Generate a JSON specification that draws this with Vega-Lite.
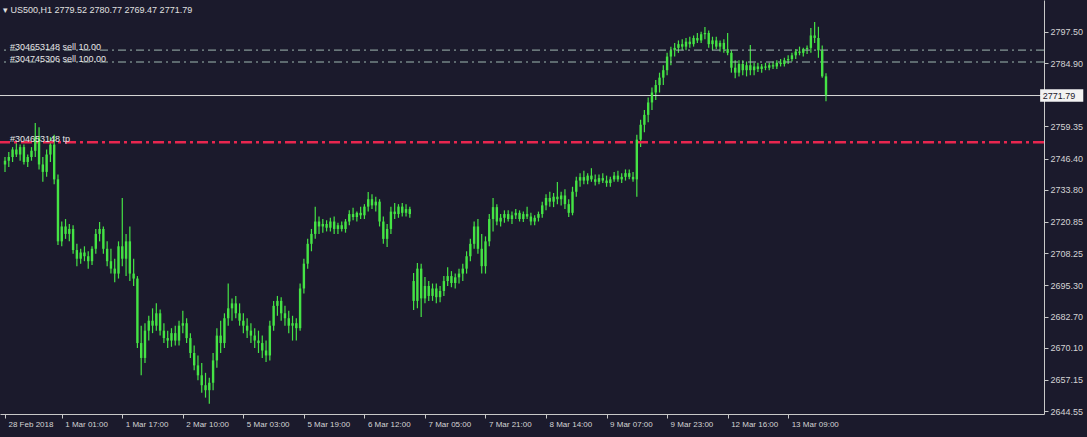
{
"$schema": "https://vega.github.io/schema/vega-lite/v6.json",
"width": 1044, "height": 414,
"autosize": {"type": "none"},
"padding": {"left": 0, "top": 0, "right": 43, "bottom": 23},
"background": "#1b1a2c",
"config": {"view": {"stroke": null, "fill": "#1b1a2c"}, "font": "Liberation Sans", "axis": {"labelOverlap": false, "labelBound": false}},
"title": {"text": "▾ US500,H1  2779.52 2780.77 2769.47 2771.79", "anchor": "start", "frame": "group", "offset": -15, "dx": 3, "fontSize": 9, "fontWeight": "normal", "color": "#e0e0e0", "font": "Liberation Sans"},
"datasets": {
"bars": [
{"i":0,"o":2744,"h":2747,"l":2741,"c":2745.5},
{"i":1,"o":2745.5,"h":2749,"l":2743,"c":2747},
{"i":2,"o":2747,"h":2751,"l":2745,"c":2750},
{"i":3,"o":2750,"h":2753.5,"l":2747,"c":2748},
{"i":4,"o":2748,"h":2752,"l":2745.5,"c":2751},
{"i":5,"o":2751,"h":2752,"l":2744,"c":2745},
{"i":6,"o":2745,"h":2748,"l":2743,"c":2747},
{"i":7,"o":2747,"h":2751,"l":2745.5,"c":2749.5},
{"i":8,"o":2749.5,"h":2760.7,"l":2747,"c":2755},
{"i":9,"o":2755,"h":2759,"l":2742,"c":2744},
{"i":10,"o":2744,"h":2747,"l":2737,"c":2741},
{"i":11,"o":2741,"h":2750,"l":2739,"c":2748},
{"i":12,"o":2748,"h":2755,"l":2745,"c":2752},
{"i":13,"o":2752,"h":2756,"l":2736,"c":2738},
{"i":14,"o":2738,"h":2740,"l":2711.5,"c":2713},
{"i":15,"o":2713,"h":2721,"l":2711,"c":2719},
{"i":16,"o":2719,"h":2722,"l":2714,"c":2716},
{"i":17,"o":2716,"h":2720,"l":2713,"c":2718},
{"i":18,"o":2718,"h":2719.5,"l":2708,"c":2709.5},
{"i":19,"o":2709.5,"h":2712,"l":2703,"c":2706},
{"i":20,"o":2706,"h":2710,"l":2704,"c":2708.5},
{"i":21,"o":2708.5,"h":2711,"l":2705,"c":2707},
{"i":22,"o":2707,"h":2709,"l":2702,"c":2705},
{"i":23,"o":2705,"h":2711,"l":2703.5,"c":2710},
{"i":24,"o":2710,"h":2718,"l":2708,"c":2716},
{"i":25,"o":2716,"h":2720.8,"l":2713,"c":2718},
{"i":26,"o":2718,"h":2719,"l":2708,"c":2710},
{"i":27,"o":2710,"h":2713,"l":2703,"c":2705},
{"i":28,"o":2705,"h":2710,"l":2700,"c":2702},
{"i":29,"o":2702,"h":2706,"l":2696.5,"c":2700},
{"i":30,"o":2700,"h":2713,"l":2698,"c":2711},
{"i":31,"o":2711,"h":2730.5,"l":2703,"c":2706},
{"i":32,"o":2706,"h":2716,"l":2699,"c":2713},
{"i":33,"o":2713,"h":2719,"l":2697,"c":2700},
{"i":34,"o":2700,"h":2706,"l":2695,"c":2698},
{"i":35,"o":2698,"h":2699,"l":2670,"c":2672},
{"i":36,"o":2672,"h":2679,"l":2659,"c":2666},
{"i":37,"o":2666,"h":2680,"l":2664,"c":2677},
{"i":38,"o":2677,"h":2683,"l":2673,"c":2681},
{"i":39,"o":2681,"h":2686,"l":2676,"c":2679},
{"i":40,"o":2679,"h":2688,"l":2677,"c":2684},
{"i":41,"o":2684,"h":2685.5,"l":2675,"c":2677},
{"i":42,"o":2677,"h":2680,"l":2672,"c":2674},
{"i":43,"o":2674,"h":2677,"l":2670,"c":2673},
{"i":44,"o":2673,"h":2678,"l":2670.5,"c":2676},
{"i":45,"o":2676,"h":2679,"l":2671,"c":2673},
{"i":46,"o":2673,"h":2681,"l":2671,"c":2679},
{"i":47,"o":2679,"h":2685,"l":2676,"c":2680},
{"i":48,"o":2680,"h":2682,"l":2672,"c":2674},
{"i":49,"o":2674,"h":2676,"l":2666,"c":2668},
{"i":50,"o":2668,"h":2671,"l":2661,"c":2663},
{"i":51,"o":2663,"h":2667,"l":2657,"c":2659},
{"i":52,"o":2659,"h":2664,"l":2652,"c":2655},
{"i":53,"o":2655,"h":2660,"l":2650,"c":2653},
{"i":54,"o":2653,"h":2658,"l":2647.5,"c":2656},
{"i":55,"o":2656,"h":2668,"l":2653,"c":2665},
{"i":56,"o":2665,"h":2678,"l":2662,"c":2675},
{"i":57,"o":2675,"h":2681,"l":2668,"c":2672},
{"i":58,"o":2672,"h":2684,"l":2670,"c":2682},
{"i":59,"o":2682,"h":2696,"l":2679,"c":2686},
{"i":60,"o":2686,"h":2690,"l":2681,"c":2688},
{"i":61,"o":2688,"h":2691,"l":2682,"c":2684},
{"i":62,"o":2684,"h":2688,"l":2679,"c":2681},
{"i":63,"o":2681,"h":2684,"l":2676,"c":2679},
{"i":64,"o":2679,"h":2682,"l":2674,"c":2677},
{"i":65,"o":2677,"h":2680,"l":2672,"c":2675},
{"i":66,"o":2675,"h":2678,"l":2670,"c":2673},
{"i":67,"o":2673,"h":2677,"l":2668,"c":2672},
{"i":68,"o":2672,"h":2675,"l":2666,"c":2669},
{"i":69,"o":2669,"h":2673,"l":2664.4,"c":2667},
{"i":70,"o":2667,"h":2681,"l":2665,"c":2679},
{"i":71,"o":2679,"h":2689,"l":2677,"c":2687},
{"i":72,"o":2687,"h":2691,"l":2683,"c":2689},
{"i":73,"o":2689,"h":2690.5,"l":2681,"c":2684},
{"i":74,"o":2684,"h":2687,"l":2679,"c":2682},
{"i":75,"o":2682,"h":2685,"l":2676,"c":2679},
{"i":76,"o":2679,"h":2683,"l":2673,"c":2680},
{"i":77,"o":2680,"h":2682,"l":2673,"c":2678},
{"i":78,"o":2678,"h":2696,"l":2677,"c":2694},
{"i":79,"o":2694,"h":2706,"l":2692,"c":2704},
{"i":80,"o":2704,"h":2714,"l":2702,"c":2712},
{"i":81,"o":2712,"h":2718,"l":2709,"c":2716},
{"i":82,"o":2716,"h":2727,"l":2714,"c":2721},
{"i":83,"o":2721,"h":2723,"l":2716,"c":2719},
{"i":84,"o":2719,"h":2722,"l":2716.5,"c":2720},
{"i":85,"o":2720,"h":2721.5,"l":2717,"c":2718.5},
{"i":86,"o":2718.5,"h":2722.5,"l":2717,"c":2721},
{"i":87,"o":2721,"h":2723,"l":2716,"c":2718},
{"i":88,"o":2718,"h":2720.5,"l":2716,"c":2719.5},
{"i":89,"o":2719.5,"h":2721,"l":2717,"c":2718},
{"i":90,"o":2718,"h":2722,"l":2716.5,"c":2721},
{"i":91,"o":2721,"h":2725.5,"l":2719.5,"c":2724},
{"i":92,"o":2724,"h":2726.5,"l":2721.5,"c":2722.8},
{"i":93,"o":2722.8,"h":2725,"l":2721,"c":2724.5},
{"i":94,"o":2724.5,"h":2727,"l":2722,"c":2723.5},
{"i":95,"o":2723.5,"h":2728,"l":2722,"c":2727},
{"i":96,"o":2727,"h":2732.9,"l":2725,"c":2730},
{"i":97,"o":2730,"h":2732,"l":2726,"c":2727.5},
{"i":98,"o":2727.5,"h":2731,"l":2725,"c":2729},
{"i":99,"o":2729,"h":2730,"l":2719,"c":2721},
{"i":100,"o":2721,"h":2723,"l":2712,"c":2714},
{"i":101,"o":2714,"h":2720,"l":2710.7,"c":2718},
{"i":102,"o":2718,"h":2727,"l":2716,"c":2725},
{"i":103,"o":2725,"h":2728.5,"l":2722,"c":2724},
{"i":104,"o":2724,"h":2728,"l":2722.5,"c":2727},
{"i":105,"o":2727,"h":2728.5,"l":2723,"c":2724.5},
{"i":106,"o":2724.5,"h":2728,"l":2723,"c":2726},
{"i":107,"o":2726,"h":2727,"l":2722.5,"c":2724},
{"i":108,"o":2697,"h":2700.2,"l":2685.3,"c":2689},
{"i":109,"o":2689,"h":2704.3,"l":2686,"c":2702},
{"i":110,"o":2702,"h":2704,"l":2682.5,"c":2690},
{"i":111,"o":2690,"h":2698.6,"l":2688,"c":2695},
{"i":112,"o":2695,"h":2697,"l":2689,"c":2691},
{"i":113,"o":2691,"h":2696,"l":2689,"c":2694},
{"i":114,"o":2694,"h":2696,"l":2688,"c":2690.5},
{"i":115,"o":2690.5,"h":2695,"l":2688.5,"c":2693},
{"i":116,"o":2693,"h":2699,"l":2691,"c":2697},
{"i":117,"o":2697,"h":2702.6,"l":2695,"c":2699},
{"i":118,"o":2699,"h":2701,"l":2694.5,"c":2696.2},
{"i":119,"o":2696.2,"h":2700,"l":2694,"c":2698.5},
{"i":120,"o":2698.5,"h":2702,"l":2696,"c":2700},
{"i":121,"o":2700,"h":2704,"l":2697,"c":2702},
{"i":122,"o":2702,"h":2709,"l":2700,"c":2707},
{"i":123,"o":2707,"h":2714,"l":2705,"c":2712},
{"i":124,"o":2712,"h":2721,"l":2710,"c":2719},
{"i":125,"o":2719,"h":2722,"l":2708,"c":2710},
{"i":126,"o":2710,"h":2716,"l":2700,"c":2703},
{"i":127,"o":2703,"h":2715,"l":2700,"c":2713},
{"i":128,"o":2713,"h":2724,"l":2711,"c":2722},
{"i":129,"o":2722,"h":2730.5,"l":2717,"c":2726.8},
{"i":130,"o":2726.8,"h":2728,"l":2719.5,"c":2721},
{"i":131,"o":2721,"h":2724,"l":2719,"c":2722.5},
{"i":132,"o":2722.5,"h":2725.5,"l":2720.5,"c":2724},
{"i":133,"o":2724,"h":2725.5,"l":2721,"c":2722},
{"i":134,"o":2722,"h":2725,"l":2720,"c":2723.5},
{"i":135,"o":2723.5,"h":2726,"l":2722,"c":2724.5},
{"i":136,"o":2724.5,"h":2725.5,"l":2721,"c":2722},
{"i":137,"o":2722,"h":2725,"l":2720.8,"c":2724},
{"i":138,"o":2724,"h":2727,"l":2722,"c":2723},
{"i":139,"o":2723,"h":2724.5,"l":2719.5,"c":2721},
{"i":140,"o":2721,"h":2723.5,"l":2719.5,"c":2722.5},
{"i":141,"o":2722.5,"h":2725,"l":2721,"c":2724},
{"i":142,"o":2724,"h":2729,"l":2722.5,"c":2727.5},
{"i":143,"o":2727.5,"h":2732,"l":2725.5,"c":2730.5},
{"i":144,"o":2730.5,"h":2733,"l":2727,"c":2729},
{"i":145,"o":2729,"h":2732.5,"l":2726.8,"c":2731},
{"i":146,"o":2731,"h":2736.9,"l":2728,"c":2730},
{"i":147,"o":2730,"h":2733,"l":2727.5,"c":2731.5},
{"i":148,"o":2731.5,"h":2734,"l":2726,"c":2728},
{"i":149,"o":2728,"h":2730,"l":2722.8,"c":2724.5},
{"i":150,"o":2724.5,"h":2735,"l":2723.5,"c":2733},
{"i":151,"o":2733,"h":2739,"l":2731,"c":2737.5},
{"i":152,"o":2737.5,"h":2740.5,"l":2735,"c":2738.9},
{"i":153,"o":2738.9,"h":2741.5,"l":2736,"c":2737.5},
{"i":154,"o":2737.5,"h":2740.5,"l":2736,"c":2739.5},
{"i":155,"o":2739.5,"h":2742.5,"l":2737,"c":2738},
{"i":156,"o":2738,"h":2740,"l":2735.5,"c":2737},
{"i":157,"o":2737,"h":2740,"l":2736,"c":2738.5},
{"i":158,"o":2738.5,"h":2740.5,"l":2736.5,"c":2737.5},
{"i":159,"o":2737.5,"h":2739.5,"l":2735,"c":2736.5},
{"i":160,"o":2736.5,"h":2739,"l":2735,"c":2738},
{"i":161,"o":2738,"h":2741,"l":2737,"c":2739.5},
{"i":162,"o":2739.5,"h":2741.5,"l":2737,"c":2738},
{"i":163,"o":2738,"h":2740.5,"l":2736.5,"c":2739},
{"i":164,"o":2739,"h":2742,"l":2737.5,"c":2740.5},
{"i":165,"o":2740.5,"h":2742,"l":2738,"c":2739},
{"i":166,"o":2739,"h":2741,"l":2737,"c":2738},
{"i":167,"o":2738,"h":2756,"l":2731,"c":2754},
{"i":168,"o":2754,"h":2762,"l":2751,"c":2760},
{"i":169,"o":2760,"h":2766,"l":2757,"c":2764},
{"i":170,"o":2764,"h":2771,"l":2761,"c":2769},
{"i":171,"o":2769,"h":2775,"l":2766,"c":2773},
{"i":172,"o":2773,"h":2778,"l":2770,"c":2776},
{"i":173,"o":2776,"h":2781,"l":2773,"c":2779},
{"i":174,"o":2779,"h":2784,"l":2776,"c":2782},
{"i":175,"o":2782,"h":2789,"l":2780,"c":2787.5},
{"i":176,"o":2787.5,"h":2791.5,"l":2784,"c":2790},
{"i":177,"o":2790,"h":2793,"l":2787.5,"c":2791},
{"i":178,"o":2791,"h":2794,"l":2789,"c":2792.5},
{"i":179,"o":2792.5,"h":2794.5,"l":2790,"c":2791.5},
{"i":180,"o":2791.5,"h":2795,"l":2790,"c":2793.5},
{"i":181,"o":2793.5,"h":2795.5,"l":2791,"c":2792.5},
{"i":182,"o":2792.5,"h":2796,"l":2791.5,"c":2795},
{"i":183,"o":2795,"h":2797,"l":2793,"c":2794},
{"i":184,"o":2794,"h":2797.5,"l":2793,"c":2796.5},
{"i":185,"o":2796.5,"h":2799.4,"l":2794.5,"c":2797},
{"i":186,"o":2797,"h":2798,"l":2791,"c":2792.5},
{"i":187,"o":2792.5,"h":2795.5,"l":2790,"c":2794},
{"i":188,"o":2794,"h":2795.5,"l":2790.5,"c":2791.5},
{"i":189,"o":2791.5,"h":2794,"l":2789.5,"c":2793},
{"i":190,"o":2793,"h":2794.5,"l":2789,"c":2790.5},
{"i":191,"o":2790.5,"h":2797,"l":2788,"c":2789},
{"i":192,"o":2789,"h":2790,"l":2781,"c":2783},
{"i":193,"o":2783,"h":2786,"l":2778.8,"c":2781},
{"i":194,"o":2781,"h":2786,"l":2779.5,"c":2784.5},
{"i":195,"o":2784.5,"h":2786,"l":2780,"c":2782},
{"i":196,"o":2782,"h":2785.5,"l":2779.5,"c":2784},
{"i":197,"o":2784,"h":2792.2,"l":2780,"c":2782},
{"i":198,"o":2782,"h":2785,"l":2780,"c":2783.5},
{"i":199,"o":2783.5,"h":2785,"l":2781.3,"c":2782.5},
{"i":200,"o":2782.5,"h":2784.5,"l":2781,"c":2783.5},
{"i":201,"o":2783.5,"h":2785,"l":2782,"c":2783},
{"i":202,"o":2783,"h":2785,"l":2782,"c":2784},
{"i":203,"o":2784,"h":2785.5,"l":2782.5,"c":2783.5},
{"i":204,"o":2783.5,"h":2786,"l":2782.5,"c":2785},
{"i":205,"o":2785,"h":2786.5,"l":2783.5,"c":2784.5},
{"i":206,"o":2784.5,"h":2787,"l":2783.5,"c":2786},
{"i":207,"o":2786,"h":2788,"l":2784.5,"c":2786.5},
{"i":208,"o":2786.5,"h":2789,"l":2785.5,"c":2788},
{"i":209,"o":2788,"h":2790.5,"l":2786.5,"c":2789.5},
{"i":210,"o":2789.5,"h":2791.5,"l":2788,"c":2789},
{"i":211,"o":2789,"h":2791,"l":2787.5,"c":2790.5},
{"i":212,"o":2790.5,"h":2792,"l":2788.5,"c":2791},
{"i":213,"o":2791,"h":2799,"l":2789,"c":2796},
{"i":214,"o":2796,"h":2801.4,"l":2793,"c":2795},
{"i":215,"o":2795,"h":2799.5,"l":2787,"c":2790},
{"i":216,"o":2790,"h":2792,"l":2779,"c":2779.52},
{"i":217,"o":2779.52,"h":2780.77,"l":2769.47,"c":2771.79}
],
"orders": [
{"label": "#304653148 sell 10.00", "p": 2790.1, "kind": "sell"},
{"label": "#304745306 sell 100.00", "p": 2785.3, "kind": "sell"},
{"label": "#304653148 tp", "p": 2753.0, "kind": "tp"}
],
"price": [{"p": 2771.79, "label": "2771.79", "top": 2774.3, "bottom": 2769.3, "x0": 273.6, "x1": 285, "xt": 274.3}]
},
"layer": [
{
"data": {"name": "bars"},
"mark": {"type": "rule", "stroke": "#45e345", "strokeWidth": 1.2, "clip": true},
"encoding": {
"x": {"field": "i", "type": "quantitative", "scale": {"domain": [0, 273.3], "nice": false, "zero": false},
"axis": {"values": [0, 15, 31, 47, 63, 79, 95, 111, 127, 143, 159, 175, 191, 207], "tickCount": 60,
"labelExpr": "datum.value == 0 ? '28 Feb 2018' : ['1 Mar 01:00','1 Mar 17:00','2 Mar 10:00','5 Mar 03:00','5 Mar 19:00','6 Mar 12:00','7 Mar 05:00','7 Mar 21:00','8 Mar 14:00','9 Mar 07:00','9 Mar 23:00','12 Mar 16:00','13 Mar 09:00'][(datum.value - 15) / 16]",
"labelAlign": "left", "labelOffset": 3, "labelPadding": 2, "labelColor": "#d4d4d4", "labelFontSize": 8, "labelFont": "Liberation Sans",
"labelFlush": false, "labelOverlap": false, "labelBound": false,
"domainColor": "#c8c8c8", "domainWidth": 1, "tickColor": "#c8c8c8", "tickSize": 4, "grid": false, "title": null}},
"y": {"field": "l", "type": "quantitative", "scale": {"domain": [2643.4, 2810.3], "nice": false, "zero": false},
"axis": {"orient": "right", "values": [2797.5, 2784.9, 2759.35, 2746.4, 2733.8, 2720.85, 2708.25, 2695.3, 2682.7, 2670.1, 2657.15, 2644.55], "tickCount": 40,
"format": ".2f", "labelColor": "#d4d4d4", "labelFontSize": 9, "labelFont": "Liberation Sans", "labelPadding": 2,
"labelOverlap": false, "labelBound": false, "labelFlush": false,
"domainColor": "#c8c8c8", "domainWidth": 1, "tickColor": "#c8c8c8", "tickSize": 4, "grid": false, "title": null}},
"y2": {"field": "h"}
}
},
{
"data": {"name": "orders"},
"transform": [{"filter": "datum.kind == 'sell'"}],
"mark": {"type": "rule", "stroke": "#9fb8b0", "strokeWidth": 1, "strokeDash": [8, 4, 2, 4]},
"encoding": {"y": {"field": "p", "type": "quantitative", "title": null}}
},
{
"data": {"name": "orders"},
"transform": [{"filter": "datum.kind == 'tp'"}],
"mark": {"type": "rule", "stroke": "#e8264f", "strokeWidth": 2.5, "strokeDash": [11, 4, 3, 4]},
"encoding": {"y": {"field": "p", "type": "quantitative", "title": null}}
},
{
"data": {"name": "price"},
"mark": {"type": "rule", "stroke": "#d8d8d8", "strokeWidth": 1},
"encoding": {"y": {"field": "p", "type": "quantitative", "title": null}}
},
{
"data": {"name": "bars"},
"mark": {"type": "bar", "color": "#45e345", "width": 2.4, "clip": true},
"encoding": {
"x": {"field": "i", "type": "quantitative", "title": null},
"y": {"field": "o", "type": "quantitative", "title": null},
"y2": {"field": "c"}
}
},
{
"data": {"name": "orders"},
"mark": {"type": "text", "align": "left", "baseline": "alphabetic", "dy": 0, "fontSize": 9, "font": "Liberation Sans", "color": "#e6e6e6"},
"encoding": {
"x": {"datum": 1.3, "type": "quantitative", "title": null},
"y": {"field": "p", "type": "quantitative", "title": null},
"text": {"field": "label"}
}
},
{
"data": {"name": "price"},
"mark": {"type": "rect", "color": "#f2f2f2", "clip": false},
"encoding": {
"x": {"field": "x0", "type": "quantitative", "title": null},
"x2": {"field": "x1"},
"y": {"field": "top", "type": "quantitative", "title": null},
"y2": {"field": "bottom"}
}
},
{
"data": {"name": "price"},
"mark": {"type": "text", "align": "left", "baseline": "middle", "fontSize": 9, "font": "Liberation Sans", "color": "#1b1a2c", "clip": false},
"encoding": {
"x": {"field": "xt", "type": "quantitative", "title": null},
"y": {"field": "p", "type": "quantitative", "title": null},
"text": {"field": "label"}
}
}
]
}
